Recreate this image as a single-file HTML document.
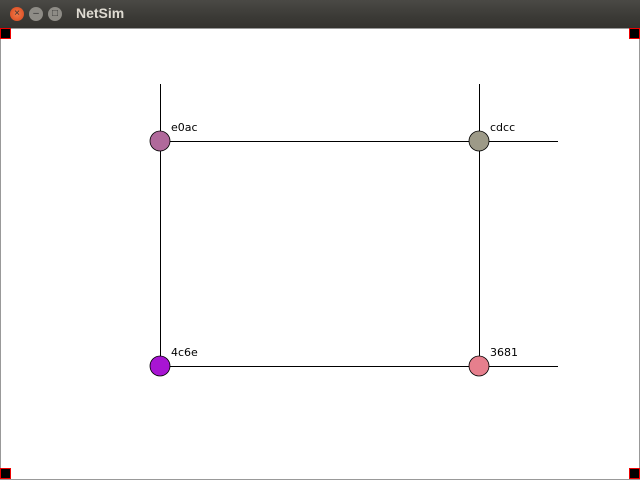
<!DOCTYPE html>
<html><head><style>
body{margin:0;width:640px;height:480px;overflow:hidden;background:#fff;font-family:"Liberation Sans",sans-serif}
#tb{position:absolute;left:0;top:0;width:640px;height:28px;background:linear-gradient(#4a4945,#3b3a36 60%,#33322e)}
.b{position:absolute;top:7px;width:14px;height:14px;border-radius:50%;font-size:10px;line-height:14px;text-align:center;color:#333}
#t{position:absolute;left:76px;top:5px;color:#dfdbd2;font-weight:bold;font-size:14px}
</style></head><body>
<div id="tb">
<div class="b" style="left:10px;background:radial-gradient(#f07a4a,#d9461c)">×</div>
<div class="b" style="left:29px;background:#8e8c86">–</div>
<div class="b" style="left:48px;background:#8e8c86">□</div>
<div id="t">NetSim</div>
</div>
<svg width="640" height="452" style="position:absolute;left:0;top:28px" font-family="DejaVu Sans, sans-serif" font-size="11">
<rect x="0.5" y="0.5" width="639" height="451" fill="none" stroke="#999"/>
<g stroke="#000" stroke-width="1">
<line x1="160.5" y1="56" x2="160.5" y2="338"/>
<line x1="479.5" y1="56" x2="479.5" y2="338"/>
<line x1="160" y1="113.5" x2="558" y2="113.5"/>
<line x1="160" y1="338.5" x2="558" y2="338.5"/>
</g>
<g stroke="#000" stroke-width="0.8">
<circle cx="160" cy="113" r="10" fill="#b0699b"/>
<circle cx="479" cy="113" r="10" fill="#9d9a88"/>
<circle cx="160" cy="338" r="10" fill="#a815d3"/>
<circle cx="479" cy="338" r="10" fill="#e67f8d"/>
</g>
<text x="171" y="103">e0ac</text>
<text x="490" y="103">cdcc</text>
<text x="171" y="328">4c6e</text>
<text x="490" y="328">3681</text>
<g fill="#000" stroke="#e00" stroke-width="1">
<rect x="0.5" y="0.5" width="10" height="10"/>
<rect x="629.5" y="0.5" width="10" height="10"/>
<rect x="0.5" y="440.5" width="10" height="10"/>
<rect x="629.5" y="440.5" width="10" height="10"/>
</g>
</svg>
</body></html>
